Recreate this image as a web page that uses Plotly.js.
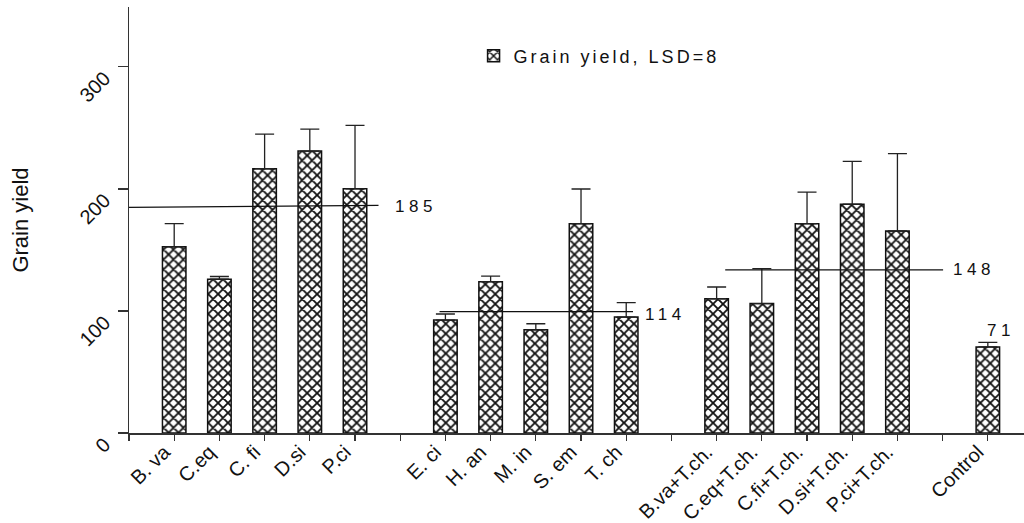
<!DOCTYPE html>
<html>
<head>
<meta charset="utf-8">
<script src="https://cdn.plot.ly/plotly-3.0.1.min.js"></script>
<style>
  body { margin: 0; background: #fff; }
  #chart { width: 1024px; height: 523px; }
  .legendtext { letter-spacing: 3.0px; }
  .annotation-text { letter-spacing: 4.5px; }
</style>
</head>
<body>
<div id="chart"></div>
<script>
// ---- data ----
const categories = ['B. va','C.eq','C. fi','D.si','P.ci',
                    'E. ci','H. an','M. in','S. em','T. ch',
                    'B.va+T.ch.','C.eq+T.ch.','C.fi+T.ch.','D.si+T.ch.','P.ci+T.ch.',
                    'Control'];
const slots = [1,2,3,4,5, 7,8,9,10,11, 13,14,15,16,17, 19];
const grainYield = [152.5,126,216.5,231,200, 92.5,124,84.5,171.5,95, 110,106,171.5,187.5,165.5, 70.5];
const errorUp = [19,2.2,28.4,18,52, 5,4.6,5,28.4,11.8, 9.6,28.7,25.9,35,63.3, 3.8];

// group mean reference lines (drawn positions) and their labels
const groupLineX = [[0,5.52],[6.87,11.15],[13.19,18.01]];
const groupLineY = [[184.8,186.4],[99.4,99.4],[133.6,133.6]];
const groupLabels = ['185','114','148','71'];
const groupLabelX = [5.84,11.37,18.19,18.94];
const groupLabelY = [185.6,97,133.8,84];

const tickVals = [];
const tickText = [];
for (let i = 0; i <= 19; i++) {
  tickVals.push(i);
  const k = slots.indexOf(i);
  tickText.push(k >= 0 ? categories[k] : '');
}

const FONT = 'Liberation Sans, Arial, sans-serif';

const traces = [{
  type: 'bar',
  name: 'Grain yield, LSD=8',
  x: slots,
  y: grainYield,
  width: 0.52,
  marker: {
    color: 'white',
    line: {color: '#111', width: 1.5},
    pattern: {shape: 'x', fgcolor: '#111', bgcolor: 'white', size: 7, solidity: 0.45}
  },
  error_y: {type: 'data', symmetric: false, array: errorUp, arrayminus: errorUp.map(() => 0),
            color: '#222', thickness: 1.3, width: 9.5},
  showlegend: true
}];

groupLineX.forEach((xs, i) => {
  traces.push({
    type: 'scatter', mode: 'lines', x: xs, y: groupLineY[i],
    line: {color: '#111', width: 1.3}, showlegend: false, hoverinfo: 'skip'
  });
});

const annotations = groupLabels.map((t, i) => ({
  x: groupLabelX[i], y: groupLabelY[i], xref: 'x', yref: 'y',
  text: t, showarrow: false, xanchor: 'left', yanchor: 'middle',
  font: {family: FONT, size: 17, color: '#111'}
}));

const layout = {
  width: 1024, height: 523,
  margin: {l: 129, r: 0, t: 7, b: 90},
  paper_bgcolor: 'white', plot_bgcolor: 'white',
  showlegend: true,
  legend: {x: 0.385, y: 0.928, xanchor: 'left', yanchor: 'top',
           font: {family: FONT, size: 18, color: '#111'}, bgcolor: 'rgba(0,0,0,0)'},
  xaxis: {
    range: [0, 19.8], showgrid: false, zeroline: false,
    showline: true, linecolor: '#333', linewidth: 1.5,
    ticks: 'outside', ticklen: 6, tickwidth: 1.3, tickcolor: '#333',
    tickvals: tickVals, ticktext: tickText, tickangle: -45,
    ticklabelstandoff: -8, ticklabelshift: -10,
    tickfont: {family: FONT, size: 20, color: '#111'}
  },
  yaxis: {
    range: [0, 349], showgrid: false, zeroline: false,
    showline: true, linecolor: '#333', linewidth: 1.5,
    ticks: 'outside', ticklen: 10, tickwidth: 1.3, tickcolor: '#333',
    tickvals: [0,100,200,300], tickangle: -45, ticklabelstandoff: 9, ticklabelshift: 9,
    tickfont: {family: FONT, size: 20, color: '#111'},
    title: {text: 'Grain yield', font: {family: FONT, size: 22, color: '#111'}, standoff: 40}
  },
  annotations: annotations
};

Plotly.newPlot('chart', traces, layout, {displayModeBar: false, staticPlot: true});
</script>
</body>
</html>
